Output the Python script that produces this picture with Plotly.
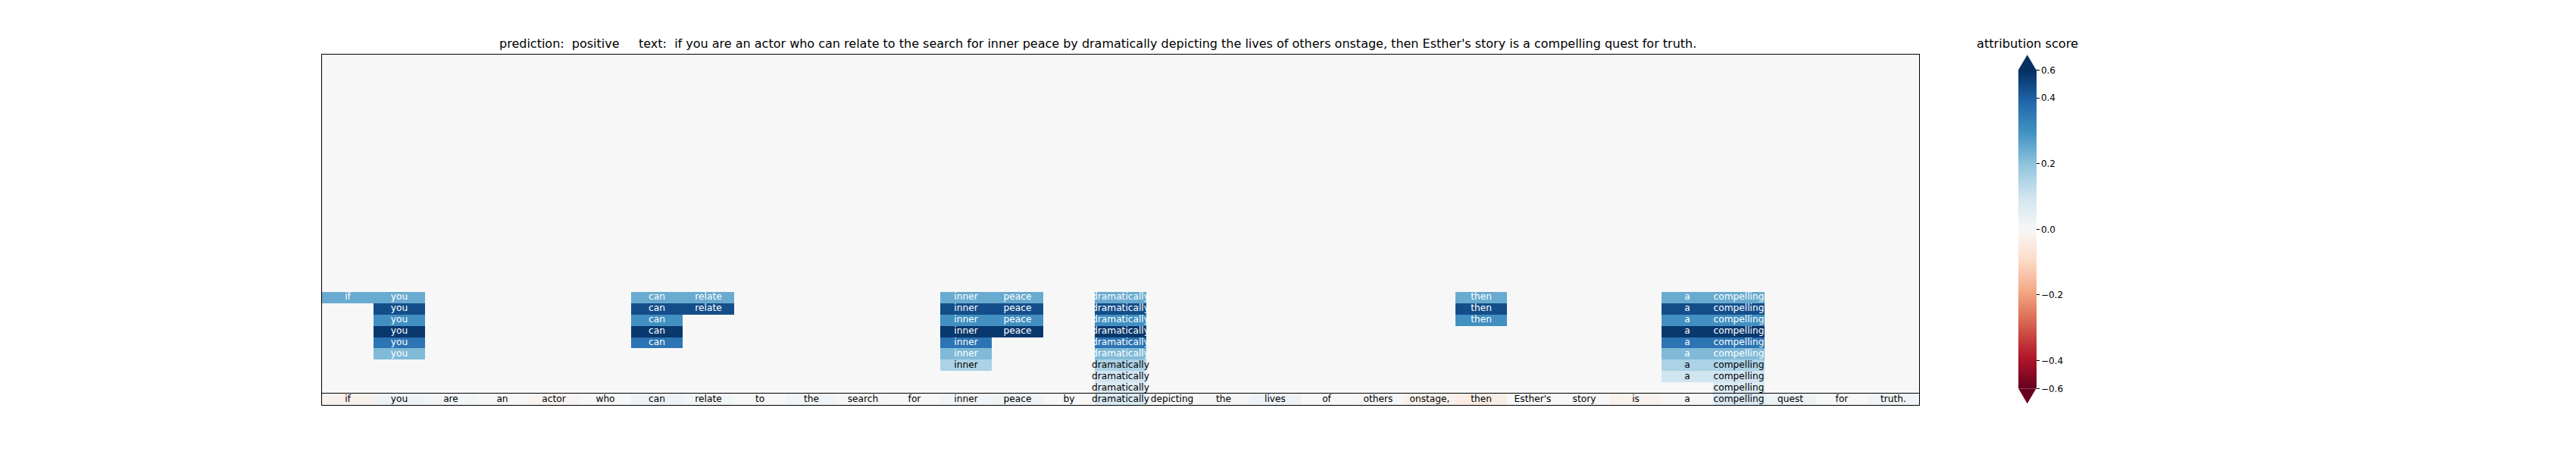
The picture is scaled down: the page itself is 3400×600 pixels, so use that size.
import plotly.graph_objects as go

# ---------------- data ----------------
tokens = ["if", "you", "are", "an", "actor", "who", "can", "relate", "to", "the",
          "search", "for", "inner", "peace", "by", "dramatically", "depicting", "the",
          "lives", "of", "others", "onstage,", "then", "Esther's", "story", "is", "a",
          "compelling", "quest", "for", "truth."]

# word-level attribution (bottom row)
token_scores = [-0.024, 0.025, 0.013, 0.003, -0.014, 0.002, 0.028, 0.013, 0.0, 0.018,
                0.005, 0.002, 0.018, 0.024, 0.0, 0.078, 0.002, 0.010, 0.028, 0.0,
                0.003, -0.025, -0.038, 0.002, 0.0, -0.022, 0.006, 0.080, 0.025, 0.002,
                0.018]

n_levels = 30  # rows of the upper (hierarchy) panel
# non-empty hierarchy levels, listed top to bottom (they fill the last rows)
level_scores = [0.244, 0.432, 0.298, 0.470, 0.358, 0.216, 0.156, 0.096, 0.068]
level_members = [
    [0, 1, 6, 7, 12, 13, 15, 22, 26, 27],
    [1, 6, 7, 12, 13, 15, 22, 26, 27],
    [1, 6, 12, 13, 15, 22, 26, 27],
    [1, 6, 12, 13, 15, 26, 27],
    [1, 6, 12, 15, 26, 27],
    [1, 12, 15, 26, 27],
    [12, 15, 26, 27],
    [15, 26, 27],
    [15, 27],
]

cbar_limit = 0.485
cbar_tickvals = [-cbar_limit, -0.4, -0.2, 0.0, 0.2, 0.4, cbar_limit]
cbar_ticktext = ["\u22120.6", "\u22120.4", "\u22120.2", "0.0", "0.2", "0.4", "0.6"]

title_text = ("prediction:\u00a0\u00a0positive\u00a0\u00a0\u00a0\u00a0\u00a0text:\u00a0\u00a0"
              + " ".join(tokens))
cbar_title = "attribution score"

# ---------------- styling ----------------
RDBU = ['rgb(103,0,31)', 'rgb(178,24,43)', 'rgb(214,96,77)', 'rgb(244,165,130)',
        'rgb(253,219,199)', 'rgb(247,247,247)', 'rgb(209,229,240)', 'rgb(146,197,222)',
        'rgb(67,147,195)', 'rgb(33,102,172)', 'rgb(5,48,97)']
FONT = "DejaVu Sans"
W, H = 3400, 600
ax_left, ax_right = 425, 2533
ax_top, ax_split, ax_bottom = 72, 519, 534
cb_left, cb_w, cb_top, cb_bot, tri_h = 2664, 23.5, 92.3, 512.3, 20
title_left = 657

n_tok = len(tokens)
cols = list(range(n_tok))

# build upper matrix
z_top = [[0.0] * n_tok for _ in range(n_levels)]
tx, ty, ts, tc = [], [], [], []
first_row = n_levels - len(level_scores)
for i, (score, members) in enumerate(zip(level_scores, level_members)):
    r = first_row + i
    for c in members:
        z_top[r][c] = score
        tx.append(c); ty.append(r); ts.append(tokens[c])
        tc.append("white" if abs(score) > 0.18 else "black")

fig = go.Figure()
fig.add_trace(go.Heatmap(
    z=z_top, x=cols, y=list(range(n_levels)), colorscale=RDBU,
    zmin=-cbar_limit, zmax=cbar_limit, hoverinfo="skip", xaxis="x", yaxis="y",
    colorbar=dict(thickness=cb_w, thicknessmode="pixels", len=cb_bot - cb_top,
                  lenmode="pixels", x=cb_left / W, xanchor="left",
                  y=1 - (cb_top + cb_bot) / 2 / H, yanchor="middle", xpad=0, ypad=0,
                  outlinewidth=0, tickmode="array", tickvals=cbar_tickvals,
                  ticktext=cbar_ticktext, ticks="outside", ticklen=4, tickwidth=1,
                  tickcolor="black", tickfont=dict(family=FONT, size=12, color="black"))))
fig.add_trace(go.Scatter(x=tx, y=ty, text=ts, mode="text", xaxis="x", yaxis="y",
                         textfont=dict(family=FONT, size=12.2, color=tc),
                         hoverinfo="skip", cliponaxis=False))
fig.add_trace(go.Heatmap(
    z=[token_scores], x=cols, y=[0], colorscale=RDBU, zmin=-cbar_limit, zmax=cbar_limit,
    showscale=False, hoverinfo="skip", xaxis="x2", yaxis="y2"))
fig.add_trace(go.Scatter(x=cols, y=[0] * n_tok, text=tokens, mode="text", xaxis="x2",
                         yaxis="y2", textfont=dict(family=FONT, size=12.2, color="black"),
                         hoverinfo="skip", cliponaxis=False))

axstyle = dict(showticklabels=False, ticks="", showgrid=False, zeroline=False,
               showline=True, mirror=True, linecolor="black", linewidth=1)
fig.update_layout(
    width=W, height=H, margin=dict(l=0, r=0, t=0, b=0), template="none",
    paper_bgcolor="white", plot_bgcolor="white", showlegend=False,
    font=dict(family=FONT, color="black"),
    xaxis=dict(domain=[ax_left / W, ax_right / W], range=[-0.5, n_tok - 0.5],
               anchor="y", **axstyle),
    yaxis=dict(domain=[1 - ax_split / H, 1 - ax_top / H], range=[n_levels - 0.5, -0.5],
               anchor="x", **axstyle),
    xaxis2=dict(domain=[ax_left / W, ax_right / W], range=[-0.5, n_tok - 0.5],
                anchor="y2", **axstyle),
    yaxis2=dict(domain=[1 - ax_bottom / H, 1 - ax_split / H], range=[0.5, -0.5],
                anchor="x2", **axstyle),
)

# titles
fig.add_annotation(text=title_text, x=title_left / W, y=1 - 57.5 / H,
                   xref="paper", yref="paper", xanchor="left", yanchor="middle",
                   showarrow=False, font=dict(family=FONT, size=16, color="black"))
fig.add_annotation(text=cbar_title, x=(cb_left + cb_w / 2) / W, y=1 - 57.5 / H,
                   xref="paper", yref="paper", xanchor="center", yanchor="middle",
                   showarrow=False, font=dict(family=FONT, size=16.2, color="black"))

# colorbar extension triangles
def px(x, y):
    return f"{x / W:.6f},{1 - y / H:.6f}"

cx = cb_left + cb_w / 2
top_path = f"M {px(cb_left, cb_top)} L {px(cb_left + cb_w, cb_top)} L {px(cx, cb_top - tri_h)} Z"
bot_path = f"M {px(cb_left, cb_bot)} L {px(cb_left + cb_w, cb_bot)} L {px(cx, cb_bot + tri_h)} Z"
fig.add_shape(type="path", path=top_path, xref="paper", yref="paper",
              fillcolor=RDBU[-1], line=dict(width=0))
fig.add_shape(type="path", path=bot_path, xref="paper", yref="paper",
              fillcolor=RDBU[0], line=dict(width=0))

fig.write_html("out.html", config={"displayModeBar": False},
               post_script="document.body.style.margin='0';")
